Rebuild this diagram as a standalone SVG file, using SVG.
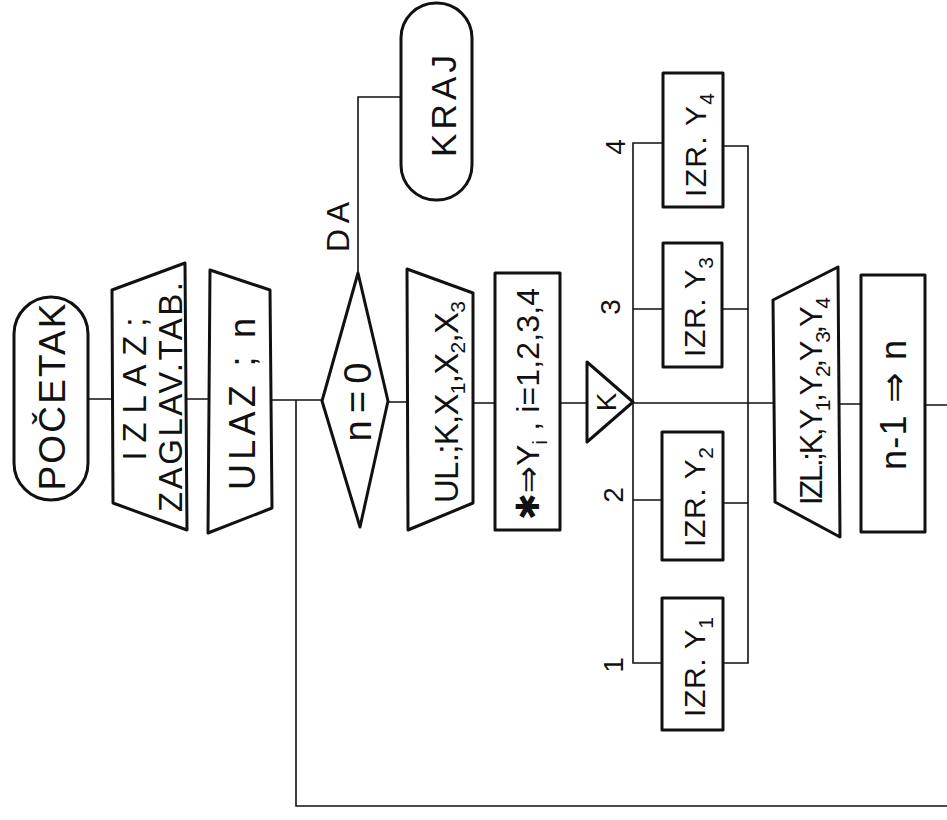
<svg xmlns="http://www.w3.org/2000/svg" width="947" height="820" viewBox="0 0 947 820">
<style>
.bg{fill:#ffffff}
.sh{fill:#ffffff;stroke:#111;stroke-width:3;stroke-linejoin:round}
.ln{fill:none;stroke:#111;stroke-width:1.6}
text{font-family:"Liberation Sans","DejaVu Sans",sans-serif;fill:#111;text-anchor:middle;dominant-baseline:central}
.t{font-size:34px}
.s{font-size:21px}
</style>
<rect class="bg" x="0" y="0" width="947" height="820"/>
<g id="connectors">
<path class="ln" d="M88 399 H112 M185 399 H210 M270 400 H322 M388 402 H407 M473 403 H495 M560 403 H587 M633 403 H773 M838 404 H861 M925 405 H947"/>
<path class="ln" d="M296 400 V806 H947"/>
<path class="ln" d="M358 273 V97 H401"/>
<path class="ln" d="M633 403 V143 H663 M633 309 H663 M633 500 H662 M633 403 V663 H662"/>
<path class="ln" d="M723 146 H748 V663 H723 M722 309 H748 M723 503 H748"/>
</g>
<g id="pocetak">
<rect class="sh" x="14" y="297" width="74" height="203" rx="37"/>
<text class="t" style="font-size:37px" transform="rotate(-90 52 397)" x="52" y="397" textLength="187">POČETAK</text>
</g>
<g id="izlaz-zaglav">
<polygon class="sh" points="112,290 185,263 187,530 113,503"/>
<text class="t" style="font-size:33px" transform="rotate(-90 134 389)" x="134" y="389" textLength="143">IZLAZ;</text>
<text class="t" style="font-size:33px" transform="rotate(-90 170 397)" x="170" y="397" textLength="230">ZAGLAV.TAB.</text>
</g>
<g id="ulaz-n">
<polygon class="sh" points="210,270 270,290 272,508 208,533"/>
<text class="t" style="font-size:36px" transform="rotate(-90 242 404)" x="242" y="404" textLength="172">ULAZ ; n</text>
</g>
<g id="decision">
<polygon class="sh" points="358,273 388,401 360,527 322,401"/>
<text class="t" style="font-size:38px" transform="rotate(-90 358 402)" x="358" y="402" textLength="79">n=0</text>
</g>
<g id="da-label">
<text class="t" style="font-size:32px" transform="rotate(-90 338 227)" x="338" y="227" textLength="50">DA</text>
</g>
<g id="kraj">
<rect class="sh" x="401" y="3" width="71" height="197" rx="35"/>
<text class="t" style="font-size:35px" transform="rotate(-90 443 106)" x="443" y="106" textLength="102">KRAJ</text>
</g>
<g id="ulaz-k-x">
<polygon class="sh" points="407,269 473,293 473,503 408,530"/>
<text class="t" style="font-size:33px" transform="rotate(-90 446 402)" x="446" y="402" textLength="202">UL.;K,X<tspan class="s" baseline-shift="sub">1</tspan>,X<tspan class="s" baseline-shift="sub">2</tspan>,X<tspan class="s" baseline-shift="sub">3</tspan></text>
</g>
<g id="assign-y">
<rect class="sh" x="495" y="273" width="65" height="257"/>
<text class="t" style="font-size:32px" transform="rotate(-90 528 404)" x="528" y="404" textLength="232">✱⇒Y<tspan class="s" baseline-shift="sub">i</tspan> , i=1,2,3,4</text>
</g>
<g id="switch-k">
<polygon class="sh" points="587,362 633,402 587,442"/>
<text class="t" style="font-size:28px" transform="rotate(-90 606 402)" x="606" y="402">K</text>
</g>
<g id="case-labels">
<text class="t" style="font-size:28px" transform="rotate(-90 613 665)" x="613" y="665">1</text>
<text class="t" style="font-size:28px" transform="rotate(-90 613 495)" x="613" y="495">2</text>
<text class="t" style="font-size:28px" transform="rotate(-90 610 307)" x="610" y="307">3</text>
<text class="t" style="font-size:28px" transform="rotate(-90 615 147)" x="615" y="147">4</text>
</g>
<g id="izr-y1">
<rect class="sh" x="662" y="598" width="61" height="132"/>
<text class="t" style="font-size:30px" transform="rotate(-90 694 667)" x="694" y="667" textLength="100">IZR. Y<tspan class="s" baseline-shift="sub">1</tspan></text>
</g>
<g id="izr-y2">
<rect class="sh" x="662" y="432" width="61" height="128"/>
<text class="t" style="font-size:30px" transform="rotate(-90 694 497)" x="694" y="497" textLength="100">IZR. Y<tspan class="s" baseline-shift="sub">2</tspan></text>
</g>
<g id="izr-y3">
<rect class="sh" x="663" y="243" width="59" height="124"/>
<text class="t" style="font-size:30px" transform="rotate(-90 694 307)" x="694" y="307" textLength="100">IZR. Y<tspan class="s" baseline-shift="sub">3</tspan></text>
</g>
<g id="izr-y4">
<rect class="sh" x="663" y="73" width="60" height="134"/>
<text class="t" style="font-size:30px" transform="rotate(-90 695 145)" x="695" y="145" textLength="104">IZR. Y<tspan class="s" baseline-shift="sub">4</tspan></text>
</g>
<g id="izlaz-k-y">
<polygon class="sh" points="773,300 838,267 840,537 775,502"/>
<text class="t" style="font-size:31px" transform="rotate(-90 811 401)" x="811" y="401" textLength="208">IZL.;K,Y<tspan class="s" baseline-shift="sub">1</tspan>,Y<tspan class="s" baseline-shift="sub">2</tspan>,Y<tspan class="s" baseline-shift="sub">3</tspan>,Y<tspan class="s" baseline-shift="sub">4</tspan></text>
</g>
<g id="decrement">
<rect class="sh" x="861" y="275" width="64" height="257"/>
<text class="t" style="font-size:36px" transform="rotate(-90 893 405)" x="893" y="405" textLength="130">n-1 ⇒ n</text>
</g>
</svg>
